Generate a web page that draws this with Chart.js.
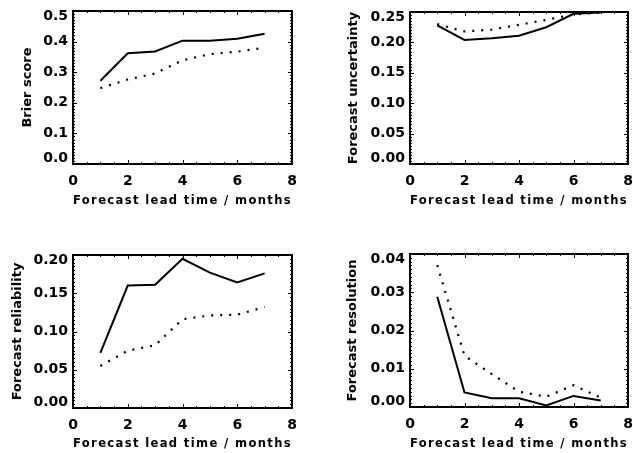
<!DOCTYPE html>
<html>
<head>
<meta charset="utf-8">
<script src="https://cdn.jsdelivr.net/npm/chart.js@4.4.1/dist/chart.umd.min.js"></script>
<style>
  body { margin: 0; background: #fff; }
  #wrap { position: relative; width: 633px; height: 453px; overflow: hidden; }
  .panel { position: absolute; }
  canvas { display: block; }
</style>
</head>
<body>
<div id="wrap">
  <div class="panel" style="left:0px;top:0px"><canvas id="c1" width="300" height="226"></canvas></div>
  <div class="panel" style="left:316px;top:0px"><canvas id="c2" width="317" height="226"></canvas></div>
  <div class="panel" style="left:0px;top:226px"><canvas id="c3" width="300" height="227"></canvas></div>
  <div class="panel" style="left:316px;top:226px"><canvas id="c4" width="317" height="227"></canvas></div>
</div>
<script>
// lead time in months (x values), shared by all panels
const leadTime = [1, 2, 3, 4, 5, 6, 7];
const xTicks = [0, 2, 4, 6, 8];

// solid = first forecast set, dotted = second
const brierSolid  = [0.272, 0.362, 0.368, 0.403, 0.403, 0.409, 0.426];
const brierDotted = [0.248, 0.276, 0.296, 0.339, 0.359, 0.367, 0.380];
const brierTicks  = [0.0, 0.1, 0.2, 0.3, 0.4, 0.5];

const uncertSolid  = [0.228, 0.204, 0.207, 0.211, 0.225, 0.247, 0.249];
const uncertDotted = [0.230, 0.218, 0.221, 0.229, 0.237, 0.246, 0.249];
const uncertTicks  = [0.00, 0.05, 0.10, 0.15, 0.20, 0.25];

const reliabSolid  = [0.072, 0.160, 0.161, 0.195, 0.177, 0.164, 0.176];
const reliabDotted = [0.055, 0.075, 0.082, 0.116, 0.121, 0.122, 0.132];
const reliabTicks  = [0.00, 0.05, 0.10, 0.15, 0.20];

const resolSolid  = [0.0288, 0.0038, 0.0023, 0.0023, 0.0004, 0.0029, 0.0017];
const resolDotted = [0.0371, 0.0134, 0.0086, 0.0040, 0.0027, 0.0057, 0.0024];
const resolTicks  = [0.00, 0.01, 0.02, 0.03, 0.04];

const FONT = '"DejaVu Sans", "Liberation Sans", sans-serif';
const X_TITLE = 'Forecast lead time / months';

// plot box per panel (canvas px) and where the titles sit
const panels = [
  { id: 'c1', title: 'Brier score', solid: brierSolid, dotted: brierDotted, yTicks: brierTicks, dec: 1,
    area: { left: 73, right: 292, top: 11, bottom: 164 }, yTitleX: 28, xTitleBottom: 25 },
  { id: 'c2', title: 'Forecast uncertainty', solid: uncertSolid, dotted: uncertDotted, yTicks: uncertTicks, dec: 2,
    area: { left: 94, right: 312, top: 12, bottom: 164 }, yTitleX: 38, xTitleBottom: 25 },
  { id: 'c3', title: 'Forecast reliability', solid: reliabSolid, dotted: reliabDotted, yTicks: reliabTicks, dec: 2,
    area: { left: 73, right: 292, top: 29, bottom: 182 }, yTitleX: 18, xTitleBottom: 9 },
  { id: 'c4', title: 'Forecast resolution', solid: resolSolid, dotted: resolDotted, yTicks: resolTicks, dec: 2,
    area: { left: 94, right: 312, top: 28, bottom: 181 }, yTitleX: 37, xTitleBottom: 9 }
];

// IDL style box: frame on all four sides with inward major + minor ticks
const boxFrame = {
  id: 'boxFrame',
  beforeDraw(chart) {
    // wider tracking on the x title, like the old plotting font
    const s = chart.scales.x;
    if (s._spaced) return;
    const orig = s.drawTitle;
    s.drawTitle = function () {
      this.ctx.save();
      this.ctx.letterSpacing = '1.5px';
      orig.call(this);
      this.ctx.restore();
    };
    s._spaced = true;
  },
  afterDraw(chart) {
    const { ctx, chartArea: a, scales: { x, y } } = chart;
    ctx.save();
    ctx.strokeStyle = '#000';
    ctx.lineWidth = 1;
    ctx.beginPath();
    for (let v = x.min; v <= x.max + 1e-9; v += 0.5) {
      const px = Math.round(x.getPixelForValue(v)) + 0.5;
      const len = Math.abs(v / 2 - Math.round(v / 2)) < 1e-6 ? 4 : 2;
      ctx.moveTo(px, a.bottom); ctx.lineTo(px, a.bottom - len);
      ctx.moveTo(px, a.top); ctx.lineTo(px, a.top + len);
    }
    const yMinor = (y.ticks[1].value - y.ticks[0].value) / 10;
    for (let i = 0; y.min + i * yMinor <= y.max + 1e-9; i++) {
      const py = Math.round(y.getPixelForValue(y.min + i * yMinor)) + 0.5;
      const len = i % 10 === 0 ? 4 : 2;
      ctx.moveTo(a.left, py); ctx.lineTo(a.left + len, py);
      ctx.moveTo(a.right, py); ctx.lineTo(a.right - len, py);
    }
    ctx.stroke();
    ctx.lineWidth = 2;
    ctx.strokeRect(a.left, a.top, a.right - a.left, a.bottom - a.top);
    ctx.restore();
  }
};

panels.forEach(p => {
  const canvas = document.getElementById(p.id);
  const W = canvas.width, H = canvas.height;
  const pts = arr => leadTime.map((x, i) => ({ x: x, y: arr[i] }));
  const last = p.yTicks.length - 1;
  new Chart(canvas, {
    type: 'line',
    data: {
      datasets: [
        { data: pts(p.solid), borderColor: '#000', borderWidth: 2, pointRadius: 0, tension: 0 },
        { data: pts(p.dotted), borderColor: '#000', borderWidth: 2.2, borderDash: [2, 7], pointRadius: 0, tension: 0 }
      ]
    },
    options: {
      responsive: false,
      animation: false,
      events: [],
      layout: { padding: { top: p.area.top, right: W - p.area.right, left: 0, bottom: 0 } },
      plugins: { legend: { display: false }, tooltip: { enabled: false } },
      scales: {
        x: {
          type: 'linear', min: 0, max: 8,
          grid: { display: false, drawTicks: false }, border: { display: false },
          afterBuildTicks: s => { s.ticks = xTicks.map(v => ({ value: v })); },
          afterFit: s => { s.height = H - p.area.bottom; s.paddingLeft = 0; s.paddingRight = 0; },
          ticks: { color: '#000', padding: 9, maxRotation: 0, font: { family: FONT, size: 14, weight: 'bold' } },
          title: { display: true, text: X_TITLE, color: '#000',
                   font: { family: FONT, size: 13, weight: 'bold' }, padding: { top: 0, bottom: p.xTitleBottom - 7.8 } }
        },
        y: {
          type: 'linear', min: p.yTicks[0], max: p.yTicks[last],
          grid: { display: false, drawTicks: false }, border: { display: false },
          afterBuildTicks: s => { s.ticks = p.yTicks.map(v => ({ value: v })); },
          afterFit: s => { s.width = p.area.left; s.paddingTop = 0; s.paddingBottom = 0; },
          ticks: {
            color: '#000', padding: 5, font: { family: FONT, size: 14, weight: 'bold', lineHeight: 0.75 },
            // end labels are nudged inside the box, as in the original plot
            callback: (v, i) => {
              const t = v.toFixed(p.dec);
              if (i === 0) return [t, ''];
              if (i === last) return ['', t];
              return t;
            }
          },
          title: { display: true, text: p.title, color: '#000',
                   font: { family: FONT, size: 13, weight: 'bold' }, padding: { top: p.yTitleX - 7.8, bottom: 0 } }
        }
      }
    },
    plugins: [boxFrame]
  });
});
</script>
</body>
</html>
